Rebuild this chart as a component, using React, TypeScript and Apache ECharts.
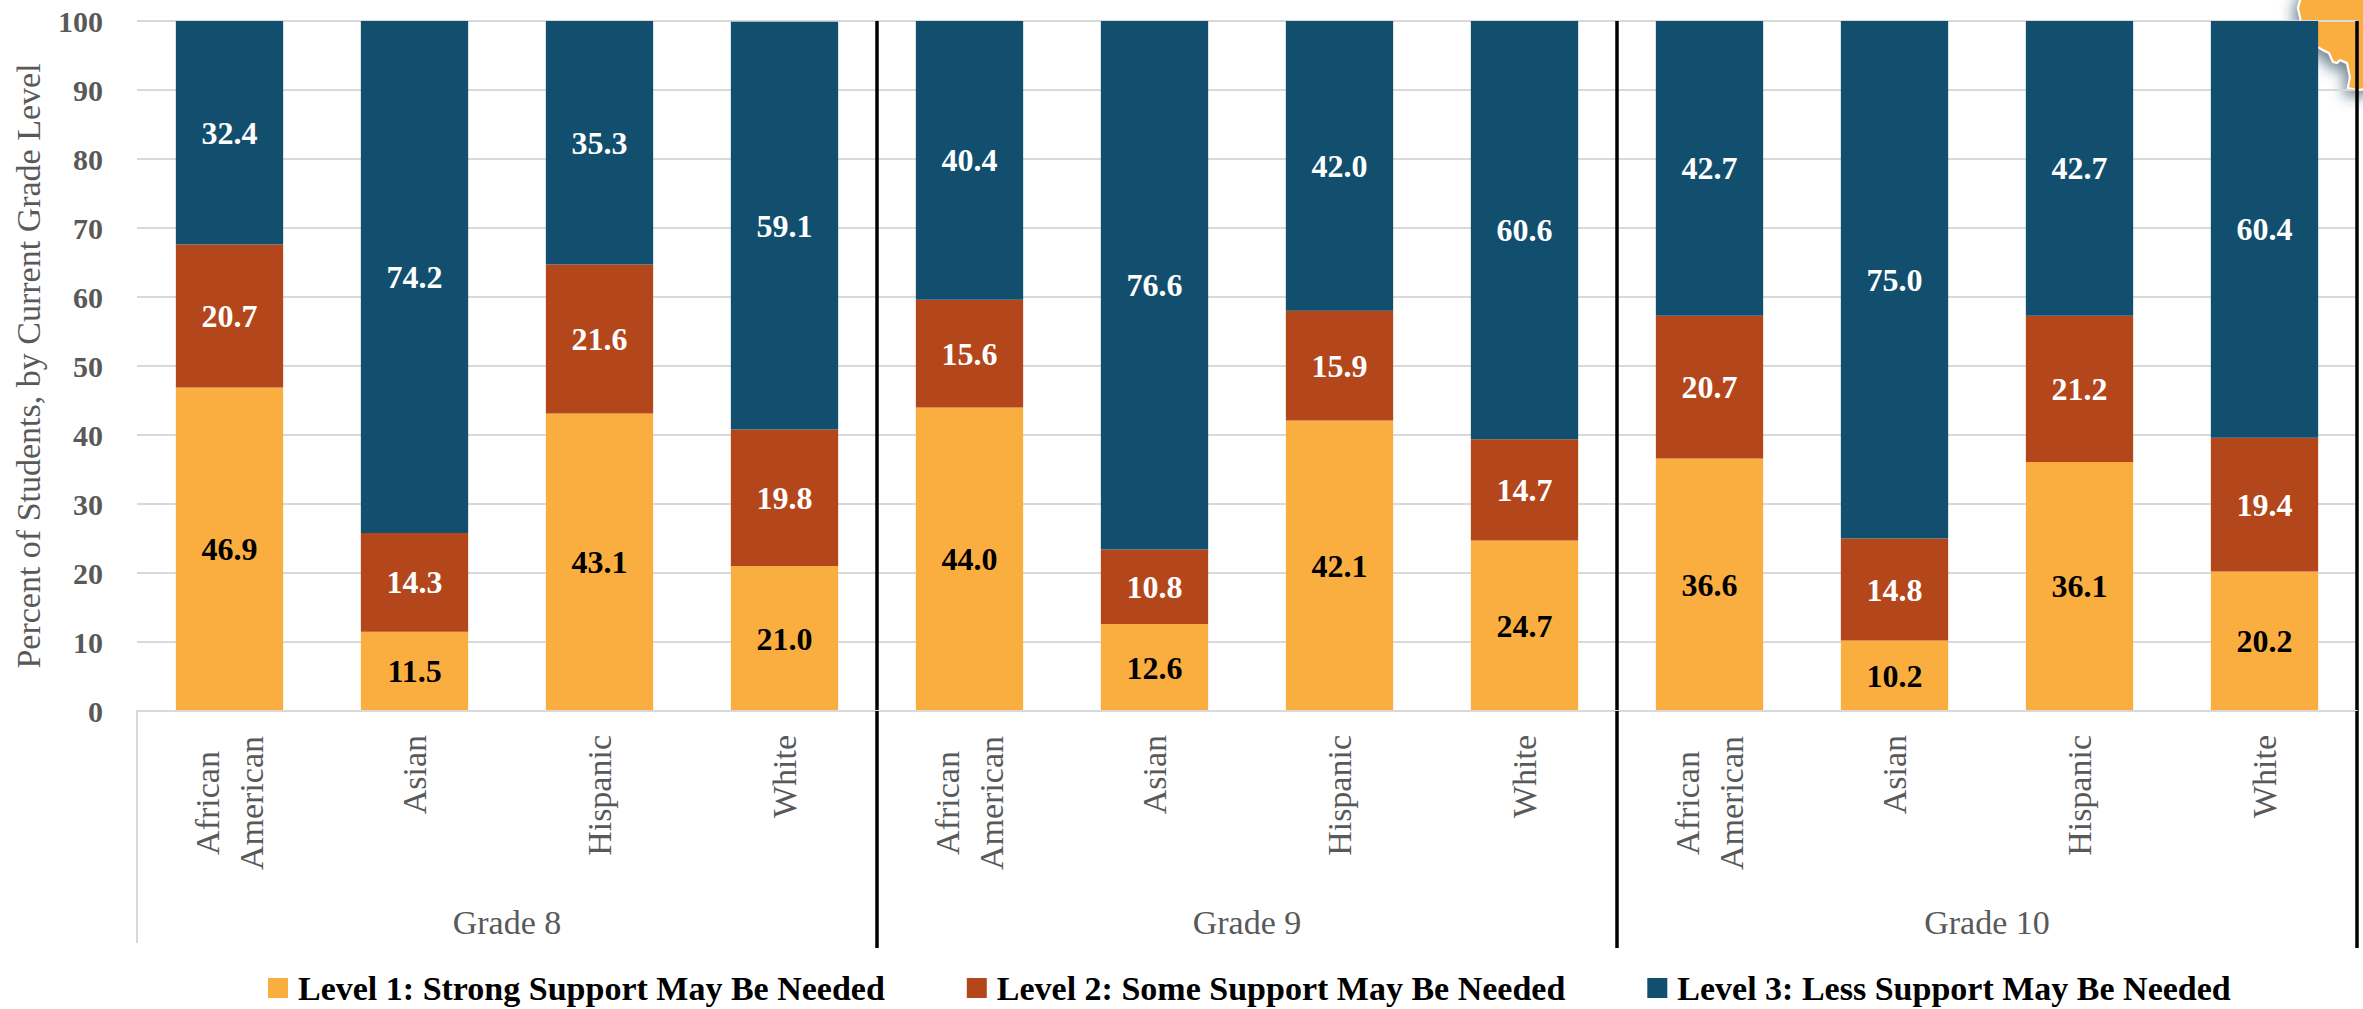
import React, { useEffect, useRef } from "react";
import * as echarts from "echarts";

const grades = ["Grade 8", "Grade 9", "Grade 10"];
const groups = ["African American", "Asian", "Hispanic", "White"];
const seriesNames = [
  "Level 1: Strong Support May Be Needed",
  "Level 2: Some Support May Be Needed",
  "Level 3: Less Support May Be Needed",
];
// order: G8 (AA, Asian, Hisp, White), G9 (...), G10 (...)
const level1 = [46.9, 11.5, 43.1, 21.0, 44.0, 12.6, 42.1, 24.7, 36.6, 10.2, 36.1, 20.2];
const level2 = [20.7, 14.3, 21.6, 19.8, 15.6, 10.8, 15.9, 14.7, 20.7, 14.8, 21.2, 19.4];
const level3 = [32.4, 74.2, 35.3, 59.1, 40.4, 76.6, 42.0, 60.6, 42.7, 75.0, 42.7, 60.4];
const yTicks = { min: 0, max: 100, interval: 10 };

const colors = ["#FBAE40", "#B4461B", "#124F6F"];
const labelColors = ["#000000", "#ffffff", "#ffffff"];
const FONT = "'Liberation Serif', 'Times New Roman', serif";
const GRAY = "#595959";
const GRID = "#d9d9d9";

export default function App() {
  const ref = useRef<HTMLDivElement>(null);
  useEffect(() => {
    if (!ref.current) return;
    const chart = echarts.init(ref.current, null, { renderer: "svg" });
    const categories: string[] = [];
    grades.forEach((g) => groups.forEach((e) => categories.push(g + "|" + e)));
    const values = [level1, level2, level3];

    const option: any = {
      animation: false,
      backgroundColor: "#ffffff",
      textStyle: { fontFamily: FONT },
      grid: { left: 137, right: 6, top: 21, bottom: 298, containLabel: false },
      legend: {
        data: seriesNames,
        left: 263,
        top: 966,
        icon: "rect",
        itemWidth: 20,
        itemHeight: 20,
        itemGap: 82,
        textStyle: {
          fontFamily: FONT,
          fontSize: 34,
          fontWeight: "bold",
          color: "#000000",
          padding: [0, 0, 0, 5],
        },
      },
      xAxis: [
        {
          type: "category",
          data: categories,
          z: 5,
          axisLine: { show: true, lineStyle: { color: GRID, width: 2 } },
          axisTick: {
            show: true,
            interval: (i: number) => i === 4 || i === 8,
            length: 237,
            lineStyle: { color: "#000000", width: 3.5 },
          },
          splitLine: {
            show: true,
            interval: (i: number) => i === 4 || i === 8,
            lineStyle: { color: "#000000", width: 3.5 },
          },
          axisLabel: {
            interval: 0,
            rotate: 90,
            margin: 24,
            fontFamily: FONT,
            fontSize: 34,
            lineHeight: 44,
            color: GRAY,
            formatter: (v: string) => {
              const name = v.split("|")[1];
              if (name.indexOf(" ") >= 0) {
                const parts = name.split(" ");
                return parts.map((p) => "{m|" + p + "}").join("\n");
              }
              return name;
            },
            rich: {
              m: {
                width: 136,
                align: "center",
                fontFamily: FONT,
                fontSize: 34,
                lineHeight: 44,
                color: GRAY,
              },
            },
          },
        },
        {
          type: "category",
          data: grades,
          position: "bottom",
          z: 1,
          axisLine: { show: false },
          axisTick: {
            show: true,
            interval: 0,
            length: 232,
            lineStyle: { color: GRID, width: 2 },
          },
          splitLine: { show: false },
          axisLabel: {
            interval: 0,
            margin: 194,
            fontFamily: FONT,
            fontSize: 34,
            color: GRAY,
          },
        },
      ],
      yAxis: {
        type: "value",
        min: yTicks.min,
        max: yTicks.max,
        interval: yTicks.interval,
        name: "Percent of Students, by Current Grade Level",
        nameLocation: "middle",
        nameGap: 92,
        nameTextStyle: { fontFamily: FONT, fontSize: 34, color: GRAY },
        axisLine: { show: false },
        axisTick: { show: false },
        splitLine: { show: true, lineStyle: { color: GRID, width: 2 } },
        axisLabel: {
          margin: 34,
          fontFamily: FONT,
          fontSize: 30,
          fontWeight: "bold",
          color: GRAY,
        },
      },
      graphic: [
        {
          type: "polygon",
          z: -1,
          shape: {
            points: [
              [2303, -10],
              [2298, 8],
              [2300, 17],
              [2303, 30],
              [2312, 42],
              [2318, 47],
              [2323, 50],
              [2329, 53],
              [2333, 62],
              [2337, 63],
              [2340, 60],
              [2347, 63],
              [2350, 77],
              [2348, 88],
              [2357, 90],
              [2375, 88],
              [2375, -10],
            ],
          },
          style: {
            fill: "#FBAE40",
            stroke: "#ffffff",
            lineWidth: 2,
            shadowBlur: 14,
            shadowColor: "rgba(20,50,70,0.6)",
            shadowOffsetX: -4,
            shadowOffsetY: 6,
          },
        },
      ],
      series: values.map((vals, k) => ({
        name: seriesNames[k],
        type: "bar",
        stack: "total",
        xAxisIndex: 0,
        barWidth: "58%",
        data: vals,
        itemStyle: { color: colors[k] },
        label: {
          show: true,
          position: "inside",
          formatter: (p: any) => Number(p.value).toFixed(1),
          fontFamily: FONT,
          fontSize: 32,
          fontWeight: "bold",
          color: labelColors[k],
        },
      })),
    };
    chart.setOption(option);
    return () => chart.dispose();
  }, []);
  return (
    <div
      ref={ref}
      style={{ position: "fixed", left: 0, top: 0, width: 2363, height: 1009 }}
    />
  );
}
